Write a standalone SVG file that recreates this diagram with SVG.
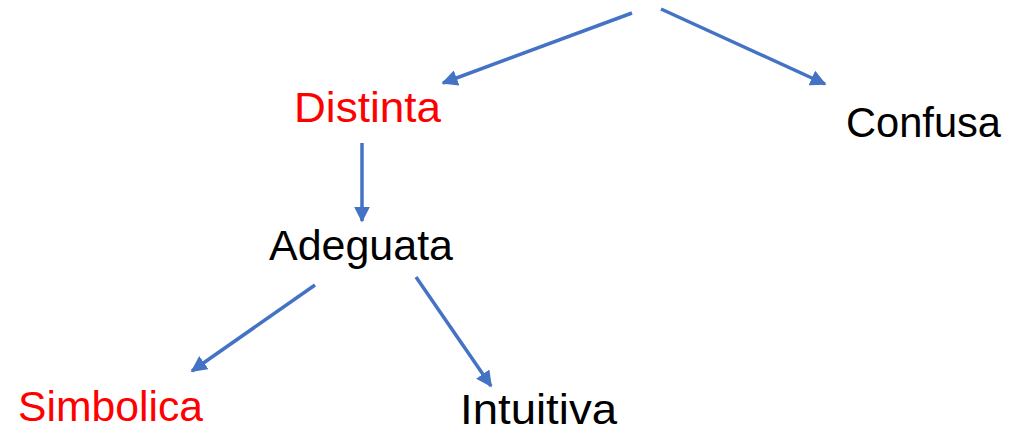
<svg xmlns="http://www.w3.org/2000/svg" width="1010" height="425" viewBox="0 0 1010 425">
<style>
.lbl{font-family:"Liberation Sans",Arial,sans-serif;font-size:43px;}
.red{fill:#FF0000;}
.blk{fill:#000000;}
.conn{stroke:#4472C4;stroke-width:3.5;fill:none;marker-end:url(#ah);}
</style>
<defs>
<marker id="ah" viewBox="0 0 10 10" refX="9" refY="5" markerWidth="4.6" markerHeight="4.6" orient="auto" markerUnits="strokeWidth">
<path d="M0,0 L10,5 L0,10 z" fill="#4472C4"/>
</marker>
</defs>
<rect width="1010" height="425" fill="#ffffff"/>
<g id="connectors">
<line class="conn" x1="632" y1="13" x2="443" y2="83"/>
<line class="conn" x1="661" y1="9" x2="825" y2="84"/>
<line class="conn" x1="362" y1="143" x2="362" y2="221"/>
<line class="conn" x1="315" y1="285" x2="192" y2="371"/>
<line class="conn" x1="416" y1="277" x2="491" y2="386"/>
</g>
<g id="distinta"><text class="lbl red" x="294" y="122" textLength="147" lengthAdjust="spacingAndGlyphs">Distinta</text></g>
<g id="confusa"><text class="lbl blk" x="846" y="137" textLength="155" lengthAdjust="spacingAndGlyphs">Confusa</text></g>
<g id="adeguata"><text class="lbl blk" x="269" y="260" textLength="184" lengthAdjust="spacingAndGlyphs">Adeguata</text></g>
<g id="simbolica"><text class="lbl red" x="18" y="421" textLength="185" lengthAdjust="spacingAndGlyphs">Simbolica</text></g>
<g id="intuitiva"><text class="lbl blk" x="460" y="424" textLength="157" lengthAdjust="spacingAndGlyphs">Intuitiva</text></g>
</svg>
